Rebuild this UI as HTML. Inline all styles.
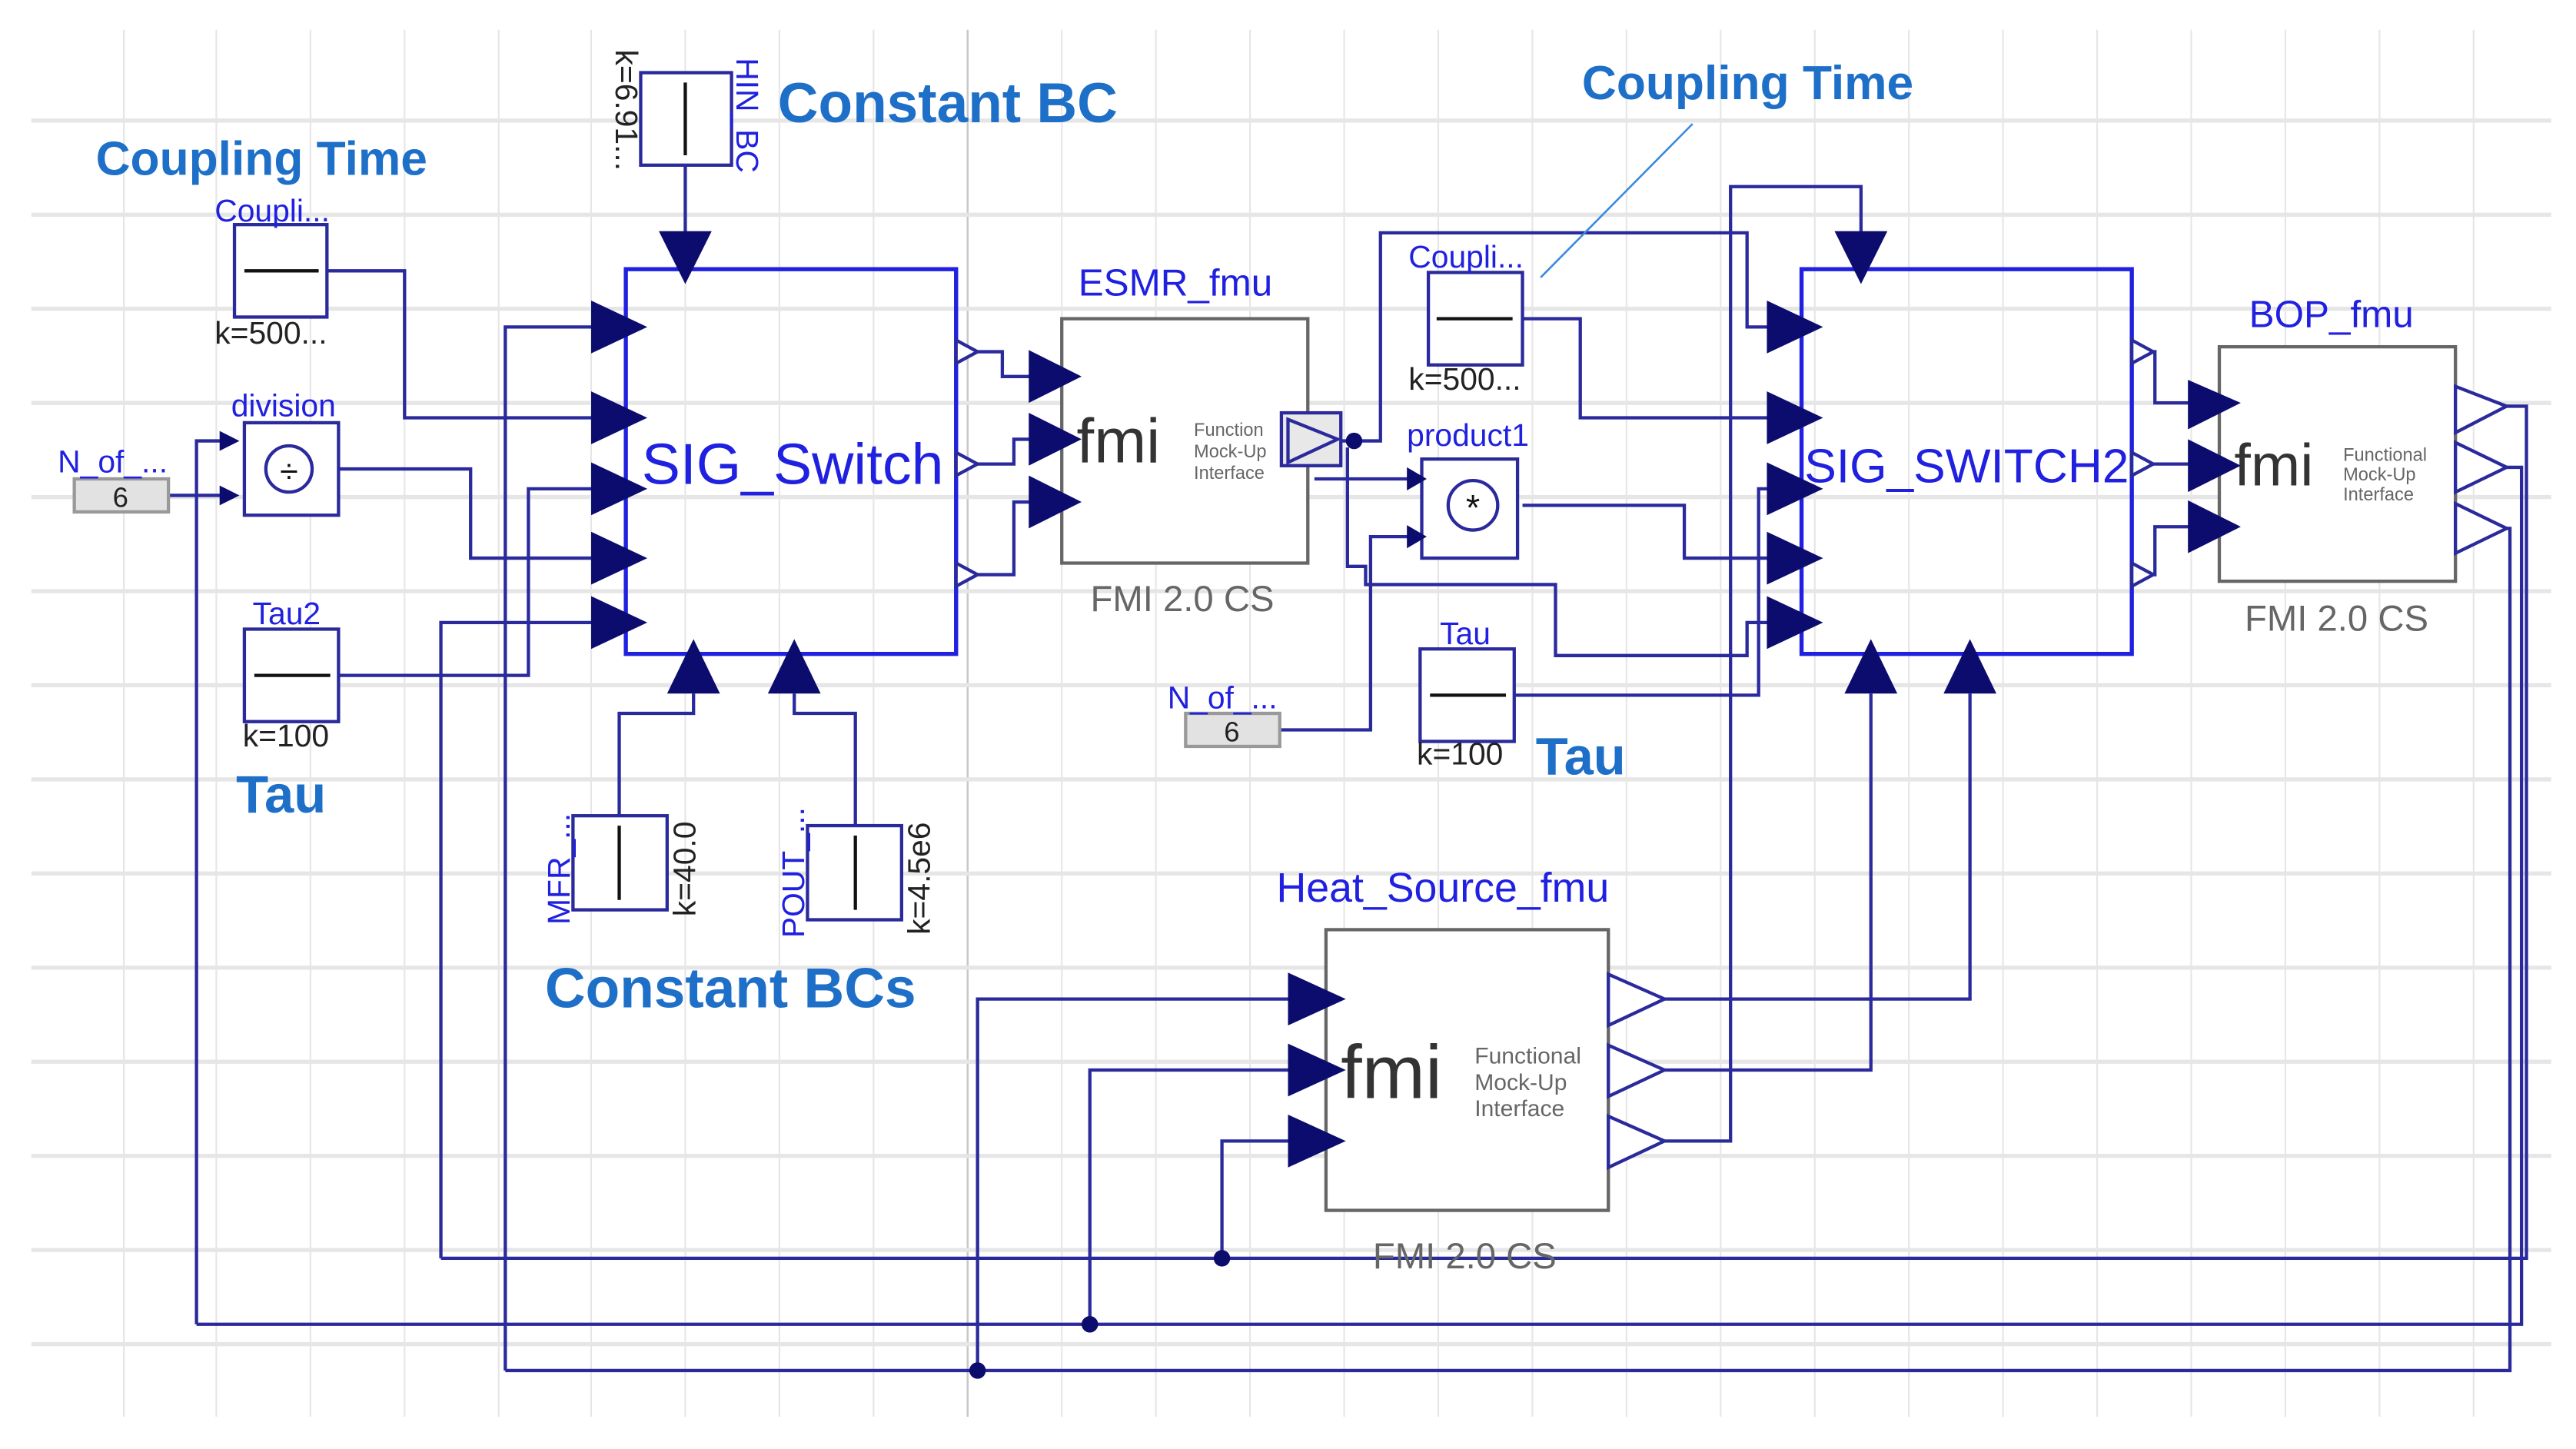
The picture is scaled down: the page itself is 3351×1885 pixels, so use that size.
<!DOCTYPE html>
<html><head><meta charset="utf-8"><style>html,body{margin:0;padding:0;background:#fff}svg{display:block}</style></head>
<body>
<svg width="3351" height="1885" viewBox="0 0 1560 877.5" xmlns="http://www.w3.org/2000/svg" font-family="Liberation Sans, sans-serif">
<rect width="1560" height="877.5" fill="#fff"/>
<g stroke="#e6e6e6" stroke-width="1">
<line x1="75" y1="18" x2="75" y2="858"/><line x1="131" y1="18" x2="131" y2="858"/><line x1="188" y1="18" x2="188" y2="858"/><line x1="245" y1="18" x2="245" y2="858"/><line x1="302" y1="18" x2="302" y2="858"/><line x1="358" y1="18" x2="358" y2="858"/><line x1="415" y1="18" x2="415" y2="858"/><line x1="472" y1="18" x2="472" y2="858"/><line x1="529" y1="18" x2="529" y2="858"/><line x1="643" y1="18" x2="643" y2="858"/><line x1="700" y1="18" x2="700" y2="858"/><line x1="757" y1="18" x2="757" y2="858"/><line x1="814" y1="18" x2="814" y2="858"/><line x1="871" y1="18" x2="871" y2="858"/><line x1="928" y1="18" x2="928" y2="858"/><line x1="985" y1="18" x2="985" y2="858"/><line x1="1042" y1="18" x2="1042" y2="858"/><line x1="1099" y1="18" x2="1099" y2="858"/><line x1="1156" y1="18" x2="1156" y2="858"/><line x1="1213" y1="18" x2="1213" y2="858"/><line x1="1270" y1="18" x2="1270" y2="858"/><line x1="1327" y1="18" x2="1327" y2="858"/><line x1="1384" y1="18" x2="1384" y2="858"/><line x1="1441" y1="18" x2="1441" y2="858"/><line x1="1498" y1="18" x2="1498" y2="858"/>
</g>
<line x1="586" y1="18" x2="586" y2="858" stroke="#c8c8c8" stroke-width="1.2"/>
<g stroke="#e6e6e6" stroke-width="2.5">
<line x1="19" y1="73" x2="1545" y2="73"/><line x1="19" y1="130" x2="1545" y2="130"/><line x1="19" y1="187" x2="1545" y2="187"/><line x1="19" y1="244" x2="1545" y2="244"/><line x1="19" y1="301" x2="1545" y2="301"/><line x1="19" y1="358" x2="1545" y2="358"/><line x1="19" y1="415" x2="1545" y2="415"/><line x1="19" y1="472" x2="1545" y2="472"/><line x1="19" y1="529" x2="1545" y2="529"/><line x1="19" y1="586" x2="1545" y2="586"/><line x1="19" y1="643" x2="1545" y2="643"/><line x1="19" y1="700" x2="1545" y2="700"/><line x1="19" y1="757" x2="1545" y2="757"/><line x1="19" y1="814" x2="1545" y2="814"/>
</g>

<g fill="none" stroke="#2a2a9c" stroke-width="2">
<polyline points="198,164 245,164 245,253 360,253"/>
<polyline points="205,284 285,284 285,338 360,338"/>
<polyline points="205,409 320,409 320,296 360,296"/>
<polyline points="306,830 306,198 360,198"/>
<polyline points="267,762 267,377 360,377"/>
<polyline points="119,802 119,267 140,267"/>
<polyline points="102,300 140,300"/>
<polyline points="415,100 415,142"/>
<polyline points="375,494 375,432 420,432 420,420"/>
<polyline points="518,500 518,432 481,432 481,420"/>
<polyline points="592,213 607,213 607,228 625,228"/>
<polyline points="592,281 614,281 614,266 625,266"/>
<polyline points="592,348 614,348 614,304 625,304"/>
<polyline points="812,267 836,267 836,141 1058,141 1058,198 1072,198"/>
<polyline points="922,193 957,193 957,253 1072,253"/>
<polyline points="922,306 1020,306 1020,338 1072,338"/>
<polyline points="796,290 858,290"/>
<polyline points="816,271 816,343 827,343 827,354 942,354 942,397 1058,397 1058,377 1072,377"/>
<polyline points="775,442 830,442 830,325 858,325"/>
<polyline points="917,421 1065,421 1065,296 1072,296"/>
<polyline points="1008,691 1048,691 1048,113 1127,113 1127,142"/>
<polyline points="1008,648 1133,648 1133,420"/>
<polyline points="1008,605 1193,605 1193,420"/>
<polyline points="1304,213 1305,213 1305,244 1327,244"/>
<polyline points="1304,281 1327,281"/>
<polyline points="1304,348 1305,348 1305,319 1327,319"/>
<polyline points="1518,246 1530,246 1530,762 267,762"/>
<polyline points="1518,283 1527,283 1527,802 119,802"/>
<polyline points="1518,320 1520,320 1520,830 306,830"/>
<polyline points="592,830 592,605 782,605"/>
<polyline points="660,802 660,648 782,648"/>
<polyline points="740,762 740,691 782,691"/>
<line x1="1025" y1="75" x2="933" y2="168" stroke="#3a8adf" stroke-width="1.2"/>
</g>
<g fill="#0c0c6e">
<circle cx="592" cy="830" r="5"/><circle cx="660" cy="802" r="5"/><circle cx="740" cy="762" r="5"/><circle cx="820" cy="267" r="5"/>
</g>

<g font-weight="bold" fill="#1e6fc8">
<text x="58" y="106" font-size="29">Coupling Time</text>
<text x="958" y="60" font-size="29">Coupling Time</text>
<text x="471" y="74" font-size="34">Constant BC</text>
<text x="330" y="610" font-size="34">Constant BCs</text>
<text x="143" y="492" font-size="32">Tau</text>
<text x="930" y="469" font-size="32">Tau</text>
</g>

<g fill="#fff" stroke="#2a2a9c" stroke-width="2">
<rect x="388" y="44" width="55" height="56"/>
<rect x="142" y="136" width="56" height="56"/>
<rect x="148" y="256" width="57" height="56"/>
<rect x="148" y="381" width="57" height="56"/>
<rect x="347" y="494" width="57" height="57"/>
<rect x="489" y="500" width="57" height="57"/>
<rect x="865" y="165" width="57" height="56"/>
<rect x="861" y="278" width="58" height="60"/>
<rect x="860" y="393" width="57" height="56"/>
</g>
<g stroke="#111" stroke-width="2">
<line x1="415" y1="50" x2="415" y2="94"/>
<line x1="148" y1="164" x2="193" y2="164"/>
<line x1="154" y1="409" x2="200" y2="409"/>
<line x1="375" y1="500" x2="375" y2="545"/>
<line x1="518" y1="506" x2="518" y2="551"/>
<line x1="870" y1="193" x2="916" y2="193"/>
<line x1="866" y1="421" x2="912" y2="421"/>
</g>
<circle cx="175" cy="284" r="14" fill="#fff" stroke="#2a2a9c" stroke-width="2"/>
<text x="175" y="292" font-size="20" text-anchor="middle" fill="#111">÷</text>
<circle cx="892" cy="306" r="15" fill="#fff" stroke="#2a2a9c" stroke-width="2"/>
<text x="892" y="315" font-size="22" text-anchor="middle" fill="#111">*</text>
<rect x="45" y="290" width="57" height="20" fill="#e2e2e2" stroke="#999" stroke-width="2"/>
<text x="73" y="307" font-size="17" text-anchor="middle" fill="#222">6</text>
<rect x="718" y="432" width="57" height="20" fill="#e2e2e2" stroke="#999" stroke-width="2"/>
<text x="746" y="449" font-size="17" text-anchor="middle" fill="#222">6</text>

<g fill="#2020e0" font-size="19">
<text x="130" y="134">Coupli...</text>
<text x="140" y="252">division</text>
<text x="35" y="286">N_of_...</text>
<text x="153" y="378">Tau2</text>
<text x="853" y="162">Coupli...</text>
<text x="852" y="270">product1</text>
<text x="707" y="429">N_of_...</text>
<text x="872" y="390">Tau</text>
<text x="653" y="179" font-size="23">ESMR_fmu</text>
<text x="1362" y="198" font-size="23">BOP_fmu</text>
<text x="773" y="546" font-size="25">Heat_Source_fmu</text>
<text transform="translate(446,35) rotate(90)">HIN_BC</text>
<text transform="translate(345,560) rotate(-90)">MFR_...</text>
<text transform="translate(487,568) rotate(-90)">POUT_...</text>
</g>
<g fill="#222" font-size="19">
<text x="130" y="208">k=500...</text>
<text x="147" y="452">k=100</text>
<text x="853" y="236">k=500...</text>
<text x="858" y="463">k=100</text>
<text transform="translate(373,30) rotate(90)">k=6.91...</text>
<text transform="translate(421,555) rotate(-90)">k=40.0</text>
<text transform="translate(563,566) rotate(-90)">k=4.5e6</text>
</g>

<rect x="379" y="163" width="200" height="233" fill="none" stroke="#2020e0" stroke-width="2.5"/>
<text x="480" y="293" font-size="35" text-anchor="middle" fill="#2020e0">SIG_Switch</text>
<rect x="1091" y="163" width="200" height="233" fill="none" stroke="#2020e0" stroke-width="2.5"/>
<text x="1191" y="292" font-size="29" text-anchor="middle" fill="#2020e0">SIG_SWITCH2</text>

<g fill="#fff" stroke="#666" stroke-width="2">
<rect x="643" y="193" width="149" height="148"/>
<rect x="1344" y="210" width="143" height="142"/>
<rect x="803" y="563" width="171" height="170"/>
</g>
<g fill="#333">
<text x="652" y="280" font-size="38">fmi</text>
<text x="1353" y="294" font-size="36">fmi</text>
<text x="812" y="665" font-size="46">fmi</text>
</g>
<g fill="#666" font-size="11">
<text x="723" y="264">Function</text><text x="723" y="277">Mock-Up</text><text x="723" y="290">Interface</text>
<text x="1419" y="279">Functional</text><text x="1419" y="291">Mock-Up</text><text x="1419" y="303">Interface</text>
<text x="893" y="644" font-size="14">Functional</text><text x="893" y="660" font-size="14">Mock-Up</text><text x="893" y="676" font-size="14">Interface</text>
</g>
<g fill="#666" font-size="22" text-anchor="middle">
<text x="716" y="370">FMI 2.0 CS</text>
<text x="1415" y="382">FMI 2.0 CS</text>
<text x="887" y="768">FMI 2.0 CS</text>
</g>
<rect x="776" y="250" width="36" height="32" fill="#e8e8e8" stroke="#2a2a9c" stroke-width="2"/>
<polygon points="780,254 810,266 780,280" fill="none" stroke="#2a2a9c" stroke-width="2"/>

<g fill="#0c0c6e">
<polygon points="358,182 392,198 358,214"/><polygon points="358,237 392,253 358,269"/><polygon points="358,280 392,296 358,312"/><polygon points="358,322 392,338 358,354"/><polygon points="358,361 392,377 358,393"/>
<polygon points="399,140 431,140 415,172"/>
<polygon points="404,420 436,420 420,387"/><polygon points="465,420 497,420 481,387"/>
<polygon points="623,212 655,228 623,244"/><polygon points="623,250 655,266 623,282"/><polygon points="623,288 655,304 623,320"/>
<polygon points="1070,182 1104,198 1070,214"/><polygon points="1070,237 1104,253 1070,269"/><polygon points="1070,280 1104,296 1070,312"/><polygon points="1070,322 1104,338 1070,354"/><polygon points="1070,361 1104,377 1070,393"/>
<polygon points="1111,140 1143,140 1127,172"/>
<polygon points="1117,420 1149,420 1133,387"/><polygon points="1177,420 1209,420 1193,387"/>
<polygon points="1325,230 1357,244 1325,260"/><polygon points="1325,266 1357,282 1325,298"/><polygon points="1325,303 1357,319 1325,335"/>
<polygon points="780,589 815,605 780,621"/><polygon points="780,632 815,648 780,664"/><polygon points="780,675 815,691 780,707"/>
<polygon points="852,283 864,290 852,297"/><polygon points="852,318 864,325 852,332"/>
<polygon points="133,261 145,267 133,273"/><polygon points="133,294 145,300 133,306"/>
</g>
<g fill="#fff" stroke="#2a2a9c" stroke-width="2">
<polygon points="579,206 592,213 579,220"/><polygon points="579,274 592,281 579,288"/><polygon points="579,341 592,348 579,355"/>
<polygon points="1291,206 1304,213 1291,220"/><polygon points="1291,274 1304,281 1291,288"/><polygon points="1291,341 1304,348 1291,355"/>
<polygon points="1487,234 1518,246 1487,262"/><polygon points="1487,268 1518,283 1487,298"/><polygon points="1487,305 1518,320 1487,335"/>
<polygon points="974,590 1008,605 974,621"/><polygon points="974,633 1008,648 974,664"/><polygon points="974,676 1008,691 974,707"/>
</g>
</svg>
</body></html>
